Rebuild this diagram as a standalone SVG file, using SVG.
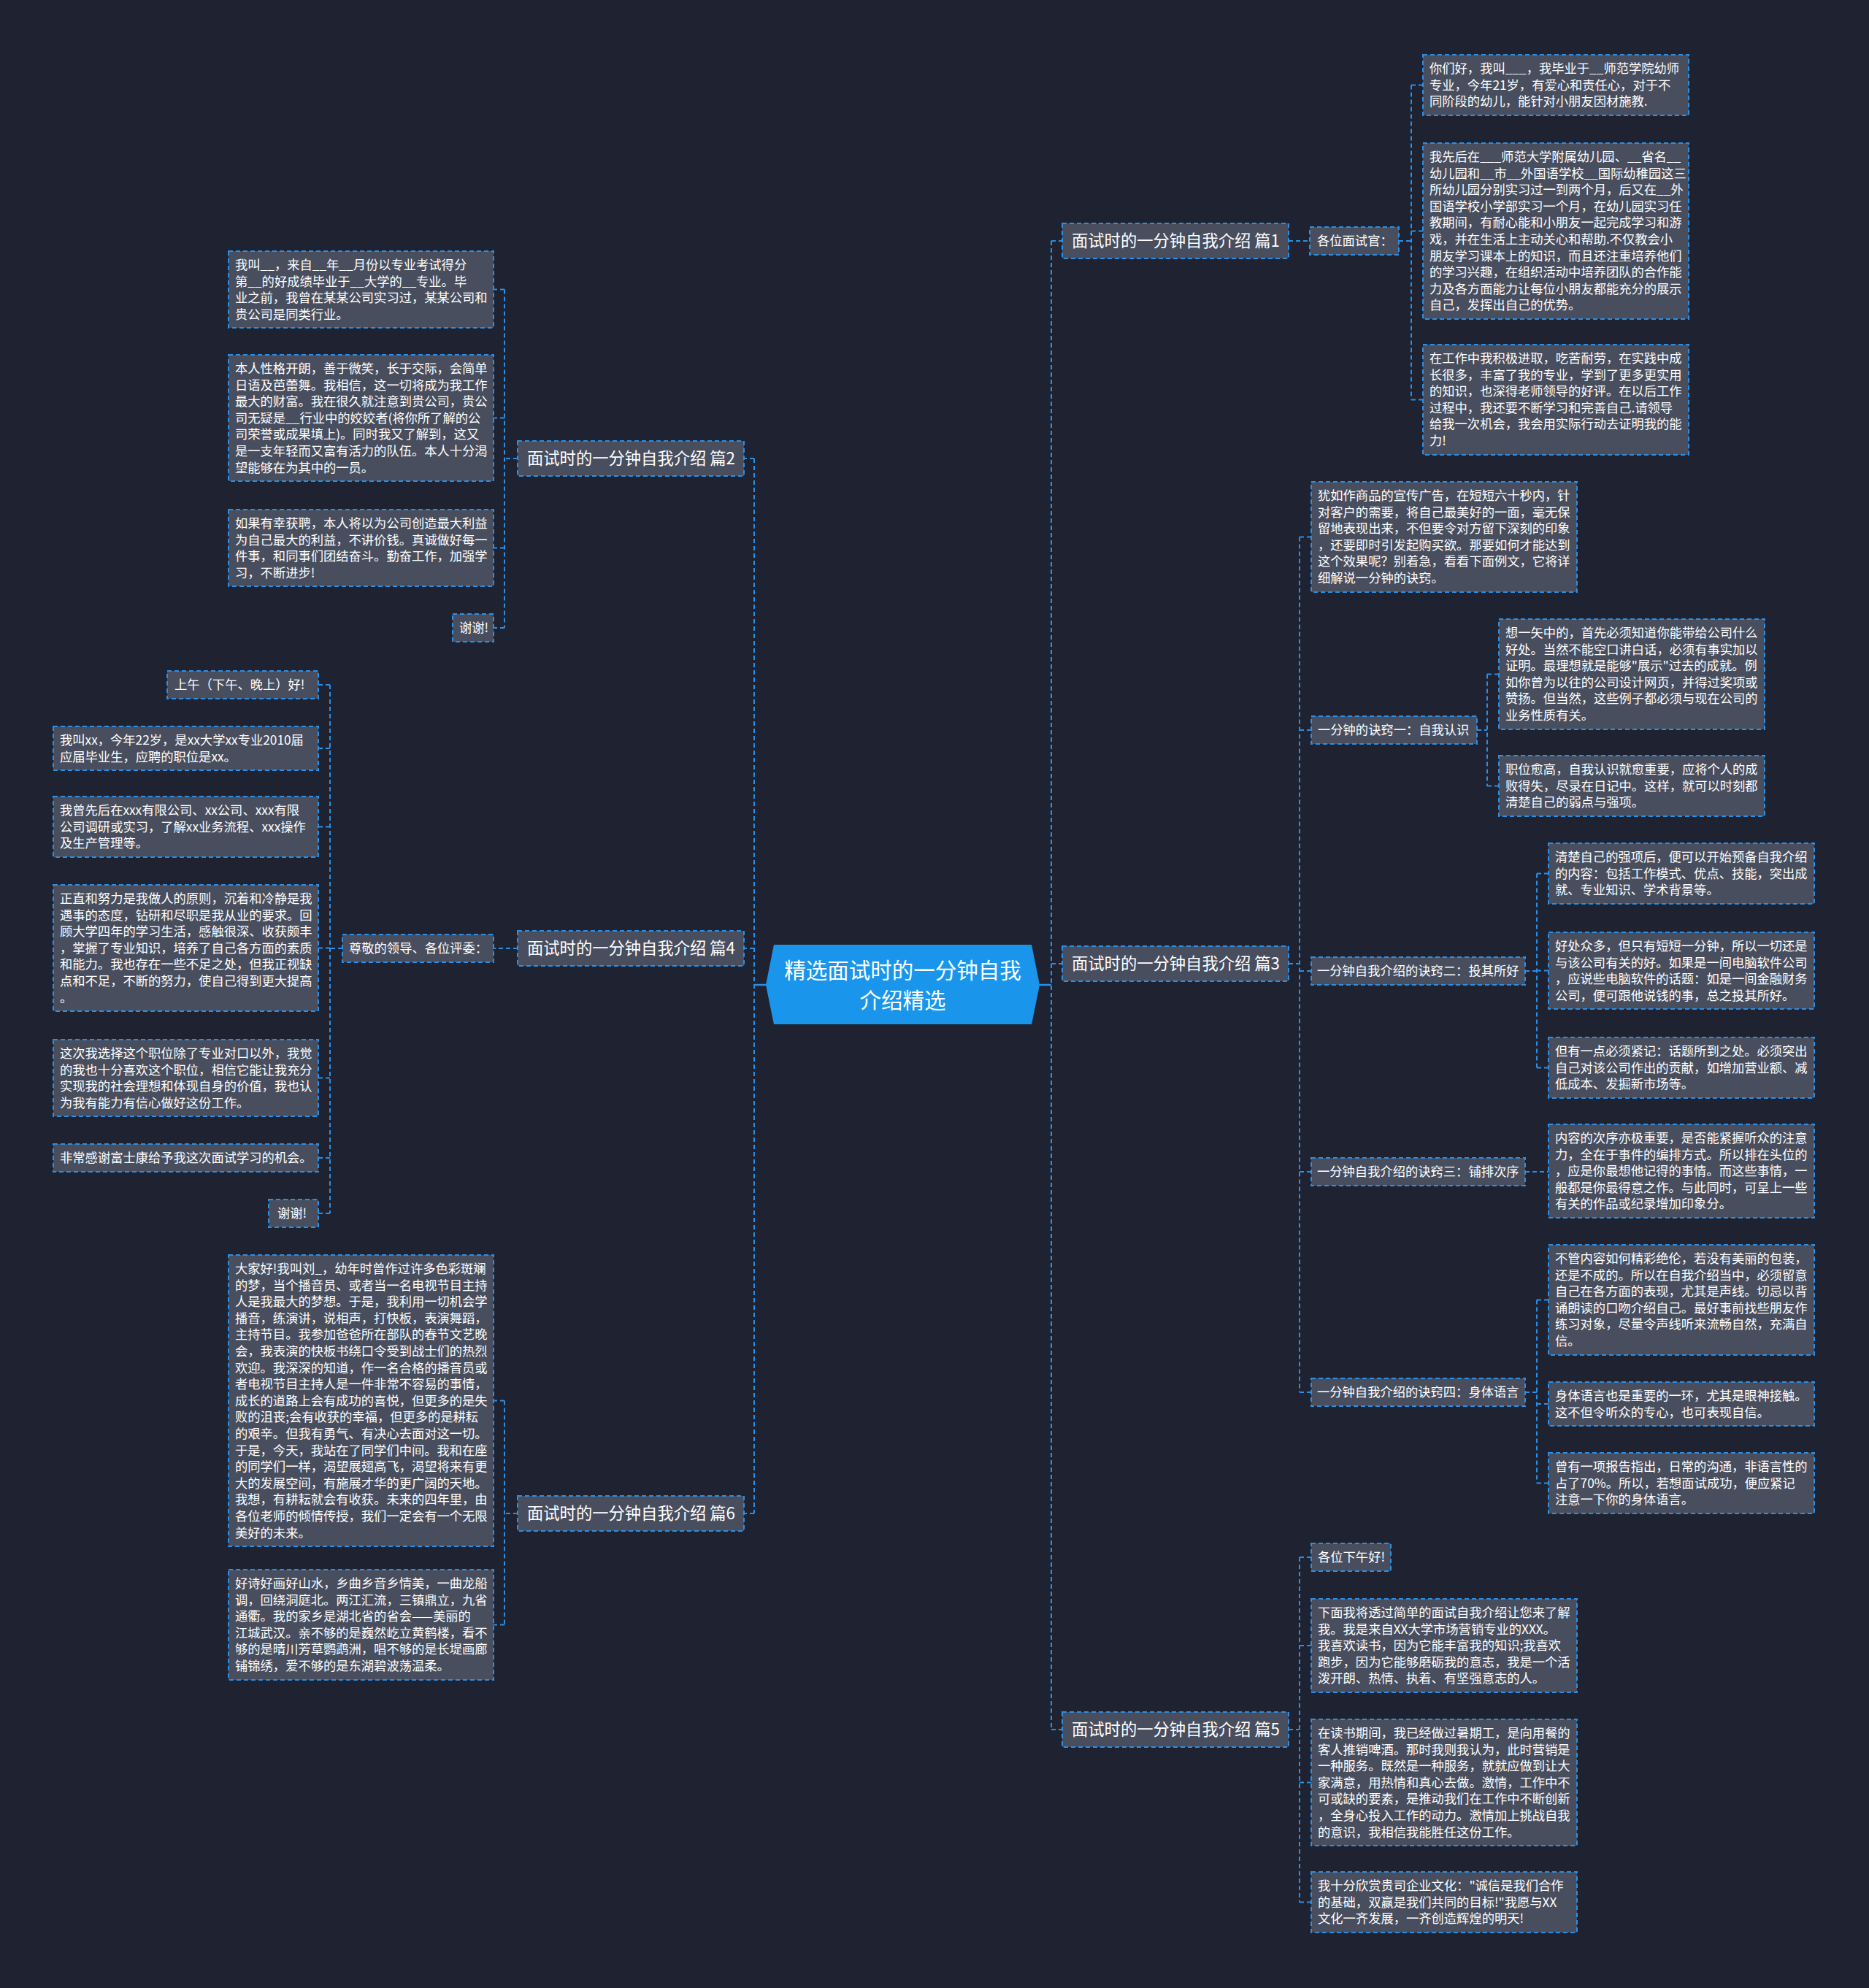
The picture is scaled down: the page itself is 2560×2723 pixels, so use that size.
<svg xmlns="http://www.w3.org/2000/svg" width="2560" height="2723" viewBox="0 0 2560 2723">
<style>
.bg{fill:#1f2230}
.box{fill:#484e5e;stroke:#2a8fe6;stroke-width:2;stroke-dasharray:6 4}
.t{font-family:"Noto Sans CJK SC","Noto Sans CJK TC",sans-serif;font-size:17.3px;fill:#ffffff}
.l1{font-family:"Noto Sans CJK SC",sans-serif;font-size:22.3px;fill:#ffffff}
.ct{font-family:"Noto Sans CJK SC",sans-serif;font-size:29.5px;fill:#ffffff;text-anchor:middle}
.c{fill:none;stroke:#2a8fe6;stroke-width:2;stroke-dasharray:6 4}
.cs{fill:none;stroke:#2a8fe6;stroke-width:2.5}
</style>
<rect class="bg" x="0" y="0" width="2560" height="2723"/>

<g id="connectors">
<path class="cs" d="M1049,1349 H1033 M1424,1349 H1440"/>
<path class="c" d="M1440,330 V2369 M1440,330 H1455 M1440,1320 H1455 M1440,2369 H1455"/>
<path class="c" d="M1033,628 V2073 M1033,628 H1019 M1033,1299 H1019 M1033,2073 H1019"/>
<path class="c" d="M1765,330 H1794"/>
<path class="c" d="M1916,330 H1933 M1933,116.5 V547.5 M1933,116.5 H1949 M1933,316.5 H1949 M1933,547.5 H1949"/>
<path class="c" d="M1765,1320 H1780 M1780,735.5 V1907 M1780,735.5 H1796 M1780,1000 H1796 M1780,1330 H1796 M1780,1605 H1796 M1780,1907 H1796"/>
<path class="c" d="M2023,1000 H2037 M2037,923.5 V1076.5 M2037,923.5 H2053 M2037,1076.5 H2053"/>
<path class="c" d="M2089,1330 H2105 M2105,1196.5 V1462.5 M2105,1196.5 H2121 M2105,1329.5 H2121 M2105,1462.5 H2121"/>
<path class="c" d="M2089,1605 H2121"/>
<path class="c" d="M2089,1907 H2105 M2105,1780.5 V2031.5 M2105,1780.5 H2121 M2105,1923 H2121 M2105,2031.5 H2121"/>
<path class="c" d="M1765,2369 H1780 M1780,2133 V2605.5 M1780,2133 H1796 M1780,2254 H1796 M1780,2441.5 H1796 M1780,2605.5 H1796"/>
<path class="c" d="M709,628 H691 M691,396.5 V860 M691,396.5 H676 M691,572.5 H676 M691,750.5 H676 M691,860 H676"/>
<path class="c" d="M709,1299 H676"/>
<path class="c" d="M469,1299 H452 M452,938 V1662 M452,938 H436 M452,1025 H436 M452,1132.5 H436 M452,1298.5 H436 M452,1476.5 H436 M452,1586 H436 M452,1662 H436"/>
<path class="c" d="M709,2073 H691 M691,1918.5 V2225.5 M691,1918.5 H676 M691,2225.5 H676"/>
</g>

<g id="center">
<polygon points="1060,1294 1413,1294 1424,1349 1413,1403 1060,1403 1049,1349" fill="#1996ec"/>
<text class="ct" x="1236.5" y="1340">精选面试时的一分钟自我</text>
<text class="ct" x="1236.5" y="1381">介绍精选</text>
</g>

<g id="n1"><rect class="box" x="1455" y="306" width="310" height="48"/><text class="l1" x="1468" y="338">面试时的一分钟自我介绍 篇1</text></g>
<g id="n1a"><rect class="box" x="1794" y="311" width="122" height="38"/><text class="t" x="1804" y="336">各位面试官：</text></g>
<g id="n1a1"><rect class="box" x="1949" y="75" width="364" height="83"/><text class="t" x="1958" y="100"><tspan x="1958" dy="0">你们好，我叫___，我毕业于__师范学院幼师</tspan><tspan x="1958" dy="22.6">专业，今年21岁，有爱心和责任心，对于不</tspan><tspan x="1958" dy="22.6">同阶段的幼儿，能针对小朋友因材施教.</tspan></text></g>
<g id="n1a2"><rect class="box" x="1949" y="196" width="364" height="241"/><text class="t" x="1958" y="221"><tspan x="1958" dy="0">我先后在___师范大学附属幼儿园、__省名__</tspan><tspan x="1958" dy="22.6">幼儿园和__市__外国语学校__国际幼稚园这三</tspan><tspan x="1958" dy="22.6">所幼儿园分别实习过一到两个月，后又在__外</tspan><tspan x="1958" dy="22.6">国语学校小学部实习一个月，在幼儿园实习任</tspan><tspan x="1958" dy="22.6">教期间，有耐心能和小朋友一起完成学习和游</tspan><tspan x="1958" dy="22.6">戏，并在生活上主动关心和帮助.不仅教会小</tspan><tspan x="1958" dy="22.6">朋友学习课本上的知识，而且还注重培养他们</tspan><tspan x="1958" dy="22.6">的学习兴趣，在组织活动中培养团队的合作能</tspan><tspan x="1958" dy="22.6">力及各方面能力让每位小朋友都能充分的展示</tspan><tspan x="1958" dy="22.6">自己，发挥出自己的优势。</tspan></text></g>
<g id="n1a3"><rect class="box" x="1949" y="472" width="364" height="151"/><text class="t" x="1958" y="497"><tspan x="1958" dy="0">在工作中我积极进取，吃苦耐劳，在实践中成</tspan><tspan x="1958" dy="22.6">长很多，丰富了我的专业，学到了更多更实用</tspan><tspan x="1958" dy="22.6">的知识，也深得老师领导的好评。在以后工作</tspan><tspan x="1958" dy="22.6">过程中，我还要不断学习和完善自己.请领导</tspan><tspan x="1958" dy="22.6">给我一次机会，我会用实际行动去证明我的能</tspan><tspan x="1958" dy="22.6">力!</tspan></text></g>

<g id="n3"><rect class="box" x="1455" y="1296" width="310" height="48"/><text class="l1" x="1468" y="1328">面试时的一分钟自我介绍 篇3</text></g>
<g id="n3a"><rect class="box" x="1796" y="660" width="364" height="151"/><text class="t" x="1805" y="685"><tspan x="1805" dy="0">犹如作商品的宣传广告，在短短六十秒内，针</tspan><tspan x="1805" dy="22.6">对客户的需要，将自己最美好的一面，毫无保</tspan><tspan x="1805" dy="22.6">留地表现出来，不但要令对方留下深刻的印象</tspan><tspan x="1805" dy="22.6">，还要即时引发起购买欲。那要如何才能达到</tspan><tspan x="1805" dy="22.6">这个效果呢？别着急，看看下面例文，它将详</tspan><tspan x="1805" dy="22.6">细解说一分钟的诀窍。</tspan></text></g>
<g id="n3b"><rect class="box" x="1796" y="981" width="227" height="38"/><text class="t" x="1805" y="1006">一分钟的诀窍一：自我认识</text></g>
<g id="n3b1"><rect class="box" x="2053" y="848" width="364" height="151"/><text class="t" x="2062" y="873"><tspan x="2062" dy="0">想一矢中的，首先必须知道你能带给公司什么</tspan><tspan x="2062" dy="22.6">好处。当然不能空口讲白话，必须有事实加以</tspan><tspan x="2062" dy="22.6">证明。最理想就是能够"展示"过去的成就。例</tspan><tspan x="2062" dy="22.6">如你曾为以往的公司设计网页，并得过奖项或</tspan><tspan x="2062" dy="22.6">赞扬。但当然，这些例子都必须与现在公司的</tspan><tspan x="2062" dy="22.6">业务性质有关。</tspan></text></g>
<g id="n3b2"><rect class="box" x="2053" y="1035" width="364" height="83"/><text class="t" x="2062" y="1060"><tspan x="2062" dy="0">职位愈高，自我认识就愈重要，应将个人的成</tspan><tspan x="2062" dy="22.6">败得失，尽录在日记中。这样，就可以时刻都</tspan><tspan x="2062" dy="22.6">清楚自己的弱点与强项。</tspan></text></g>
<g id="n3c"><rect class="box" x="1796" y="1311" width="293" height="38"/><text class="t" x="1804" y="1336">一分钟自我介绍的诀窍二：投其所好</text></g>
<g id="n3c1"><rect class="box" x="2121" y="1155" width="364" height="83"/><text class="t" x="2130" y="1180"><tspan x="2130" dy="0">清楚自己的强项后，便可以开始预备自我介绍</tspan><tspan x="2130" dy="22.6">的内容：包括工作模式、优点、技能，突出成</tspan><tspan x="2130" dy="22.6">就、专业知识、学术背景等。</tspan></text></g>
<g id="n3c2"><rect class="box" x="2121" y="1277" width="364" height="105"/><text class="t" x="2130" y="1302"><tspan x="2130" dy="0">好处众多，但只有短短一分钟，所以一切还是</tspan><tspan x="2130" dy="22.6">与该公司有关的好。如果是一间电脑软件公司</tspan><tspan x="2130" dy="22.6">，应说些电脑软件的话题：如是一间金融财务</tspan><tspan x="2130" dy="22.6">公司，便可跟他说钱的事，总之投其所好。</tspan></text></g>
<g id="n3c3"><rect class="box" x="2121" y="1421" width="364" height="83"/><text class="t" x="2130" y="1446"><tspan x="2130" dy="0">但有一点必须紧记：话题所到之处。必须突出</tspan><tspan x="2130" dy="22.6">自己对该公司作出的贡献，如增加营业额、减</tspan><tspan x="2130" dy="22.6">低成本、发掘新市场等。</tspan></text></g>
<g id="n3d"><rect class="box" x="1796" y="1586" width="293" height="38"/><text class="t" x="1804" y="1611">一分钟自我介绍的诀窍三：铺排次序</text></g>
<g id="n3d1"><rect class="box" x="2121" y="1540" width="364" height="128"/><text class="t" x="2130" y="1565"><tspan x="2130" dy="0">内容的次序亦极重要，是否能紧握听众的注意</tspan><tspan x="2130" dy="22.6">力，全在于事件的编排方式。所以排在头位的</tspan><tspan x="2130" dy="22.6">，应是你最想他记得的事情。而这些事情，一</tspan><tspan x="2130" dy="22.6">般都是你最得意之作。与此同时，可呈上一些</tspan><tspan x="2130" dy="22.6">有关的作品或纪录增加印象分。</tspan></text></g>
<g id="n3e"><rect class="box" x="1796" y="1888" width="293" height="38"/><text class="t" x="1804" y="1913">一分钟自我介绍的诀窍四：身体语言</text></g>
<g id="n3e1"><rect class="box" x="2121" y="1705" width="364" height="151"/><text class="t" x="2130" y="1730"><tspan x="2130" dy="0">不管内容如何精彩绝伦，若没有美丽的包装，</tspan><tspan x="2130" dy="22.6">还是不成的。所以在自我介绍当中，必须留意</tspan><tspan x="2130" dy="22.6">自己在各方面的表现，尤其是声线。切忌以背</tspan><tspan x="2130" dy="22.6">诵朗读的口吻介绍自己。最好事前找些朋友作</tspan><tspan x="2130" dy="22.6">练习对象，尽量令声线听来流畅自然，充满自</tspan><tspan x="2130" dy="22.6">信。</tspan></text></g>
<g id="n3e2"><rect class="box" x="2121" y="1893" width="364" height="60"/><text class="t" x="2130" y="1918"><tspan x="2130" dy="0">身体语言也是重要的一环，尤其是眼神接触。</tspan><tspan x="2130" dy="22.6">这不但令听众的专心，也可表现自信。</tspan></text></g>
<g id="n3e3"><rect class="box" x="2121" y="1990" width="364" height="83"/><text class="t" x="2130" y="2015"><tspan x="2130" dy="0">曾有一项报告指出，日常的沟通，非语言性的</tspan><tspan x="2130" dy="22.6">占了70%。所以，若想面试成功，便应紧记</tspan><tspan x="2130" dy="22.6">注意一下你的身体语言。</tspan></text></g>

<g id="n5"><rect class="box" x="1455" y="2345" width="310" height="48"/><text class="l1" x="1468" y="2377">面试时的一分钟自我介绍 篇5</text></g>
<g id="n5a"><rect class="box" x="1796" y="2114" width="109" height="38"/><text class="t" x="1805" y="2139">各位下午好!</text></g>
<g id="n5b"><rect class="box" x="1796" y="2190" width="364" height="128"/><text class="t" x="1805" y="2215"><tspan x="1805" dy="0">下面我将透过简单的面试自我介绍让您来了解</tspan><tspan x="1805" dy="22.6">我。我是来自XX大学市场营销专业的XXX。</tspan><tspan x="1805" dy="22.6">我喜欢读书，因为它能丰富我的知识;我喜欢</tspan><tspan x="1805" dy="22.6">跑步，因为它能够磨砺我的意志，我是一个活</tspan><tspan x="1805" dy="22.6">泼开朗、热情、执着、有坚强意志的人。</tspan></text></g>
<g id="n5c"><rect class="box" x="1796" y="2355" width="364" height="173"/><text class="t" x="1805" y="2380"><tspan x="1805" dy="0">在读书期间，我已经做过暑期工，是向用餐的</tspan><tspan x="1805" dy="22.6">客人推销啤酒。那时我则我认为，此时营销是</tspan><tspan x="1805" dy="22.6">一种服务。既然是一种服务，就就应做到让大</tspan><tspan x="1805" dy="22.6">家满意，用热情和真心去做。激情，工作中不</tspan><tspan x="1805" dy="22.6">可或缺的要素，是推动我们在工作中不断创新</tspan><tspan x="1805" dy="22.6">，全身心投入工作的动力。激情加上挑战自我</tspan><tspan x="1805" dy="22.6">的意识，我相信我能胜任这份工作。</tspan></text></g>
<g id="n5d"><rect class="box" x="1796" y="2564" width="364" height="83"/><text class="t" x="1805" y="2589"><tspan x="1805" dy="0">我十分欣赏贵司企业文化："诚信是我们合作</tspan><tspan x="1805" dy="22.6">的基础，双赢是我们共同的目标!"我愿与XX</tspan><tspan x="1805" dy="22.6">文化一齐发展，一齐创造辉煌的明天!</tspan></text></g>

<g id="n2"><rect class="box" x="709" y="604" width="310" height="48"/><text class="l1" x="722" y="636">面试时的一分钟自我介绍 篇2</text></g>
<g id="n2a"><rect class="box" x="313" y="344" width="363" height="105"/><text class="t" x="322" y="369"><tspan x="322" dy="0">我叫__，来自__年__月份以专业考试得分</tspan><tspan x="322" dy="22.6">第__的好成绩毕业于__大学的__专业。毕</tspan><tspan x="322" dy="22.6">业之前，我曾在某某公司实习过，某某公司和</tspan><tspan x="322" dy="22.6">贵公司是同类行业。</tspan></text></g>
<g id="n2b"><rect class="box" x="313" y="486" width="363" height="173"/><text class="t" x="322" y="511"><tspan x="322" dy="0">本人性格开朗，善于微笑，长于交际，会简单</tspan><tspan x="322" dy="22.6">日语及芭蕾舞。我相信，这一切将成为我工作</tspan><tspan x="322" dy="22.6">最大的财富。我在很久就注意到贵公司，贵公</tspan><tspan x="322" dy="22.6">司无疑是__行业中的姣姣者(将你所了解的公</tspan><tspan x="322" dy="22.6">司荣誉或成果填上)。同时我又了解到，这又</tspan><tspan x="322" dy="22.6">是一支年轻而又富有活力的队伍。本人十分渴</tspan><tspan x="322" dy="22.6">望能够在为其中的一员。</tspan></text></g>
<g id="n2c"><rect class="box" x="313" y="698" width="363" height="105"/><text class="t" x="322" y="723"><tspan x="322" dy="0">如果有幸获聘，本人将以为公司创造最大利益</tspan><tspan x="322" dy="22.6">为自己最大的利益，不讲价钱。真诚做好每一</tspan><tspan x="322" dy="22.6">件事，和同事们团结奋斗。勤奋工作，加强学</tspan><tspan x="322" dy="22.6">习，不断进步!</tspan></text></g>
<g id="n2d"><rect class="box" x="620" y="841" width="56" height="38"/><text class="t" x="629" y="866">谢谢!</text></g>

<g id="n4"><rect class="box" x="709" y="1275" width="310" height="48"/><text class="l1" x="722" y="1307">面试时的一分钟自我介绍 篇4</text></g>
<g id="n4a"><rect class="box" x="469" y="1280" width="207" height="38"/><text class="t" x="478" y="1305">尊敬的领导、各位评委：</text></g>
<g id="n4a1"><rect class="box" x="229" y="919" width="207" height="38"/><text class="t" x="239" y="944">上午（下午、晚上）好!</text></g>
<g id="n4a2"><rect class="box" x="73" y="995" width="363" height="60"/><text class="t" x="82" y="1020"><tspan x="82" dy="0">我叫xx，今年22岁，是xx大学xx专业2010届</tspan><tspan x="82" dy="22.6">应届毕业生，应聘的职位是xx。</tspan></text></g>
<g id="n4a3"><rect class="box" x="73" y="1091" width="363" height="83"/><text class="t" x="82" y="1116"><tspan x="82" dy="0">我曾先后在xxx有限公司、xx公司、xxx有限</tspan><tspan x="82" dy="22.6">公司调研或实习，了解xx业务流程、xxx操作</tspan><tspan x="82" dy="22.6">及生产管理等。</tspan></text></g>
<g id="n4a4"><rect class="box" x="73" y="1212" width="363" height="173"/><text class="t" x="82" y="1237"><tspan x="82" dy="0">正直和努力是我做人的原则，沉着和冷静是我</tspan><tspan x="82" dy="22.6">遇事的态度，钻研和尽职是我从业的要求。回</tspan><tspan x="82" dy="22.6">顾大学四年的学习生活，感触很深、收获颇丰</tspan><tspan x="82" dy="22.6">，掌握了专业知识，培养了自己各方面的素质</tspan><tspan x="82" dy="22.6">和能力。我也存在一些不足之处，但我正视缺</tspan><tspan x="82" dy="22.6">点和不足，不断的努力，使自己得到更大提高</tspan><tspan x="82" dy="22.6">。</tspan></text></g>
<g id="n4a5"><rect class="box" x="73" y="1424" width="363" height="105"/><text class="t" x="82" y="1449"><tspan x="82" dy="0">这次我选择这个职位除了专业对口以外，我觉</tspan><tspan x="82" dy="22.6">的我也十分喜欢这个职位，相信它能让我充分</tspan><tspan x="82" dy="22.6">实现我的社会理想和体现自身的价值，我也认</tspan><tspan x="82" dy="22.6">为我有能力有信心做好这份工作。</tspan></text></g>
<g id="n4a6"><rect class="box" x="73" y="1567" width="363" height="38"/><text class="t" x="82" y="1592">非常感谢富士康给予我这次面试学习的机会。</text></g>
<g id="n4a7"><rect class="box" x="368" y="1643" width="68" height="38"/><text class="t" x="380" y="1668">谢谢!</text></g>

<g id="n6"><rect class="box" x="709" y="2049" width="310" height="48"/><text class="l1" x="722" y="2081">面试时的一分钟自我介绍 篇6</text></g>
<g id="n6a"><rect class="box" x="313" y="1719" width="363" height="399"/><text class="t" x="322" y="1744"><tspan x="322" dy="0">大家好!我叫刘_，幼年时曾作过许多色彩斑斓</tspan><tspan x="322" dy="22.6">的梦，当个播音员、或者当一名电视节目主持</tspan><tspan x="322" dy="22.6">人是我最大的梦想。于是，我利用一切机会学</tspan><tspan x="322" dy="22.6">播音，练演讲，说相声，打快板，表演舞蹈，</tspan><tspan x="322" dy="22.6">主持节目。我参加爸爸所在部队的春节文艺晚</tspan><tspan x="322" dy="22.6">会，我表演的快板书绕口令受到战士们的热烈</tspan><tspan x="322" dy="22.6">欢迎。我深深的知道，作一名合格的播音员或</tspan><tspan x="322" dy="22.6">者电视节目主持人是一件非常不容易的事情，</tspan><tspan x="322" dy="22.6">成长的道路上会有成功的喜悦，但更多的是失</tspan><tspan x="322" dy="22.6">败的沮丧;会有收获的幸福，但更多的是耕耘</tspan><tspan x="322" dy="22.6">的艰辛。但我有勇气、有决心去面对这一切。</tspan><tspan x="322" dy="22.6">于是，今天，我站在了同学们中间。我和在座</tspan><tspan x="322" dy="22.6">的同学们一样，渴望展翅高飞，渴望将来有更</tspan><tspan x="322" dy="22.6">大的发展空间，有施展才华的更广阔的天地。</tspan><tspan x="322" dy="22.6">我想，有耕耘就会有收获。未来的四年里，由</tspan><tspan x="322" dy="22.6">各位老师的倾情传授，我们一定会有一个无限</tspan><tspan x="322" dy="22.6">美好的未来。</tspan></text></g>
<g id="n6b"><rect class="box" x="313" y="2150" width="363" height="151"/><text class="t" x="322" y="2175"><tspan x="322" dy="0">好诗好画好山水，乡曲乡音乡情美，一曲龙船</tspan><tspan x="322" dy="22.6">调，回绕洞庭北。两江汇流，三镇鼎立，九省</tspan><tspan x="322" dy="22.6">通衢。我的家乡是湖北省的省会——美丽的</tspan><tspan x="322" dy="22.6">江城武汉。亲不够的是巍然屹立黄鹤楼，看不</tspan><tspan x="322" dy="22.6">够的是晴川芳草鹦鹉洲，唱不够的是长堤画廊</tspan><tspan x="322" dy="22.6">铺锦绣，爱不够的是东湖碧波荡温柔。</tspan></text></g>
</svg>
